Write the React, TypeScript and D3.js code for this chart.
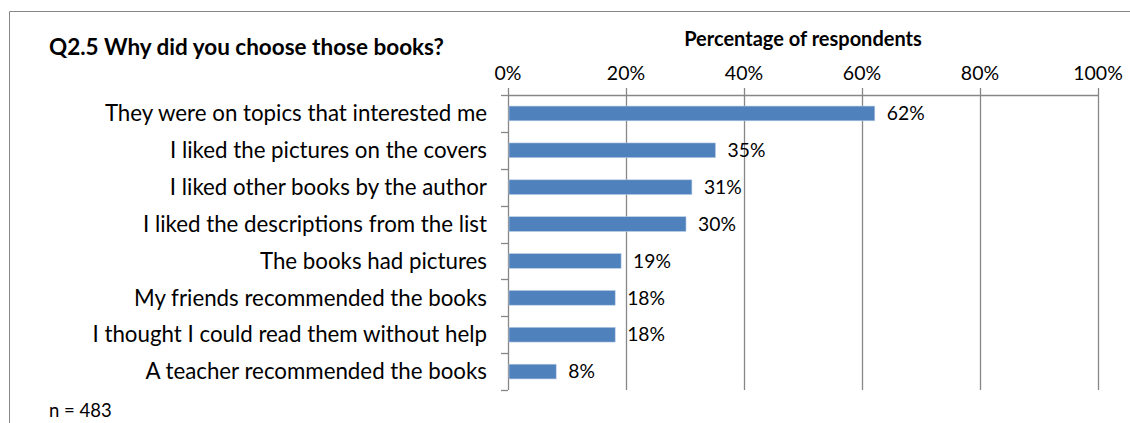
import React from "react";
import * as d3 from "d3";

const categories = [
  "They were on topics that interested me",
  "I liked the pictures on the covers",
  "I liked other books by the author",
  "I liked the descriptions from the list",
  "The books had pictures",
  "My friends recommended the books",
  "I thought I could read them without help",
  "A teacher recommended the books",
];
const values = [62, 35, 31, 30, 19, 18, 18, 8];
const xTicks = [0, 20, 40, 60, 80, 100];
const title = "Q2.5 Why did you choose those books?";
const axisTitle = "Percentage of respondents";
const note = "n = 483";

const W = 1130;
const H = 423;
const FONT = "Lato, 'Open Sans', sans-serif";

export default function App() {
  const left = 508;
  const right = 1098;
  const top = 95;
  const bottom = 390;
  const x = d3.scaleLinear().domain([0, 100]).range([left, right]);
  const y = d3.scaleBand<string>().domain(categories).range([top, bottom]).paddingInner(0.6).paddingOuter(0.3);
  const band = d3.scaleBand<string>().domain(categories).range([top, bottom]);
  const grid = "#878787";
  return (
    <svg width={W} height={H} style={{ position: "absolute", left: 0, top: 0, display: "block", background: "#fff" }}>
      <line x1={9.5} y1={11.5} x2={W} y2={11.5} stroke={grid} strokeWidth={1} />
      <line x1={9.5} y1={11.5} x2={9.5} y2={H} stroke={grid} strokeWidth={1} />
      <text x={49} y={55} fontFamily={FONT} fontWeight="bold" fontSize={22.5} fill="#000">{title}</text>
      <text x={803} y={46} textAnchor="middle" fontFamily={FONT} fontWeight="bold" fontSize={20} fill="#000">{axisTitle}</text>
      {xTicks.map((t) => (
        <g key={t}>
          <line x1={Math.round(x(t)) + 0.5} x2={Math.round(x(t)) + 0.5} y1={top - 7} y2={bottom} stroke={grid} strokeWidth={1.3} />
          <text x={x(t)} y={80} textAnchor="middle" fontFamily={FONT} fontSize={19.5} fill="#000">{t}%</text>
        </g>
      ))}
      <line x1={left} x2={right} y1={top + 0.5} y2={top + 0.5} stroke={grid} strokeWidth={1.3} />
      {categories.map((c, i) => (
        <line key={"tk" + i} x1={left - 7} x2={left} y1={Math.round(band(c)!) + 0.5} y2={Math.round(band(c)!) + 0.5} stroke={grid} strokeWidth={1.3} />
      ))}
      <line x1={left - 7} x2={left} y1={bottom + 0.5} y2={bottom + 0.5} stroke={grid} strokeWidth={1.3} />
      {categories.map((c, i) => {
        const cy = band(c)! + band.bandwidth() / 2;
        return (
          <g key={c}>
            <rect x={x(0) + 1} y={y(c)!} width={x(values[i]) - x(0)} height={y.bandwidth()} fill="#4F81BD" stroke="#B9CDE5" strokeWidth={0.6} />
            <text x={487} y={cy} dy="0.35em" textAnchor="end" fontFamily={FONT} fontSize={22.3} fill="#000">{c}</text>
            <text x={x(values[i]) + 13} y={cy} dy="0.35em" fontFamily={FONT} fontSize={19.3} fill="#000">{values[i]}%</text>
          </g>
        );
      })}
      <text x={49} y={417} fontFamily={FONT} fontSize={18.5} fill="#000">{note}</text>
    </svg>
  );
}
